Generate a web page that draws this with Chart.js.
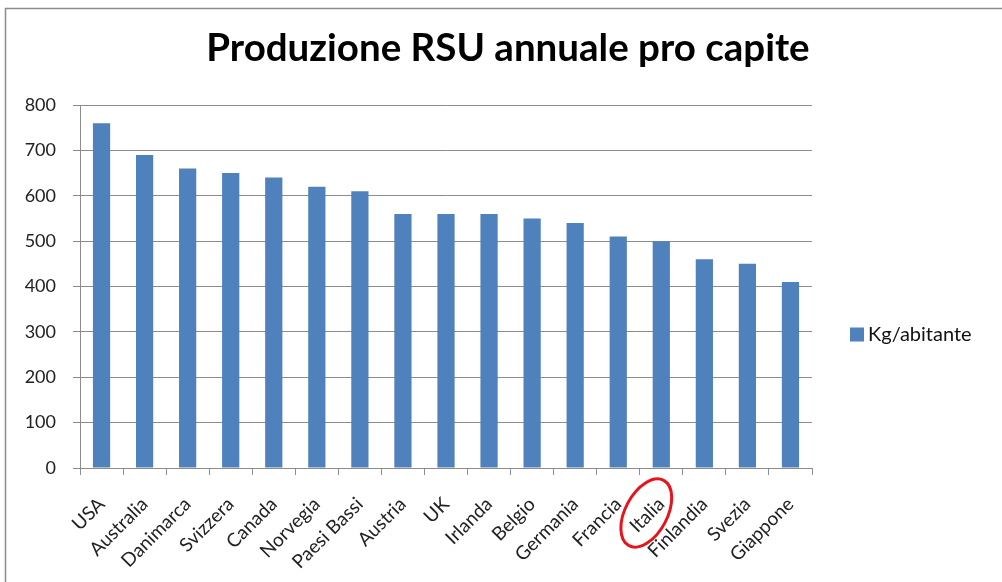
<!DOCTYPE html>
<html>
<head>
<meta charset="utf-8">
<script src="https://cdn.jsdelivr.net/npm/chart.js@4"></script>
<style>
html,body{margin:0;padding:0;background:#fff;}
#wrap{position:relative;width:1002px;height:582px;overflow:hidden;}
canvas{display:block;}
</style>
</head>
<body>
<div id="wrap"><canvas id="c" width="1002" height="582"></canvas></div>
<script>
const categories = ["USA","Australia","Danimarca","Svizzera","Canada","Norvegia","Paesi Bassi","Austria","UK","Irlanda","Belgio","Germania","Francia","Italia","Finlandia","Svezia","Giappone"];
const kgPerInhabitant = [760,690,660,650,640,620,610,560,560,560,550,540,510,500,460,450,410];
const seriesLabel = "Kg/abitante";
const chartTitle = "Produzione RSU annuale pro capite";
const highlighted = "Italia";

const FONT = 'Lato, "Liberation Sans", sans-serif';

const frameAndExtras = {
  id: 'frameAndExtras',
  beforeDraw(chart) {
    const ctx = chart.ctx;
    ctx.save();
    ctx.fillStyle = '#fff';
    ctx.fillRect(0, 0, chart.width, chart.height);
    ctx.strokeStyle = '#8c8c8c';
    ctx.lineWidth = 1.5;
    ctx.beginPath();
    ctx.moveTo(5.5, chart.height);
    ctx.lineTo(5.5, 8.5);
    ctx.lineTo(chart.width, 8.5);
    ctx.stroke();
    // title
    ctx.fillStyle = '#000';
    ctx.font = 'bold 38.5px ' + FONT;
    ctx.textAlign = 'center';
    ctx.textBaseline = 'alphabetic';
    ctx.fillText(chartTitle, 508, 61);
    ctx.restore();
  },
  afterDraw(chart) {
    const ctx = chart.ctx;
    const ds = chart.data.datasets[0];
    const area = chart.chartArea;
    // legend
    ctx.save();
    const lx = 850, ly = (area.top + area.bottom) / 2 + 48;
    ctx.fillStyle = ds.backgroundColor;
    ctx.fillRect(lx, ly - 7, 14, 14);
    ctx.fillStyle = '#111';
    ctx.font = '20px ' + FONT;
    ctx.textBaseline = 'middle';
    ctx.textAlign = 'left';
    ctx.fillText(ds.label, lx + 18, ly);
    // red ellipse around highlighted label
    const idx = chart.data.labels.indexOf(highlighted);
    if (idx >= 0) {
      const x = chart.scales.x.getPixelForValue(idx) - 15;
      const y = area.bottom + 45;
      ctx.strokeStyle = '#e8141b';
      ctx.lineWidth = 3;
      ctx.beginPath();
      ctx.ellipse(x, y, 37, 21, -62 * Math.PI / 180, 0, Math.PI * 2);
      ctx.stroke();
    }
    ctx.restore();
  }
};

new Chart(document.getElementById('c'), {
  type: 'bar',
  data: {
    labels: categories,
    datasets: [{
      label: seriesLabel,
      data: kgPerInhabitant,
      backgroundColor: '#4F81BD',
      borderWidth: 0,
      barPercentage: 0.4,
      categoryPercentage: 1.0
    }]
  },
  options: {
    responsive: false,
    animation: false,
    devicePixelRatio: 1,
    layout: { padding: { left: 0, right: 190, top: 105, bottom: 0 } },
    plugins: {
      legend: { display: false },
      tooltip: { enabled: false },
      title: { display: false }
    },
    scales: {
      x: {
        grid: { display: true, drawOnChartArea: false, drawTicks: true, tickLength: 7, color: '#8c8c8c', offset: true },
        border: { display: true, color: '#8c8c8c' },
        ticks: {
          autoSkip: false, maxRotation: 45, minRotation: 45, padding: 18,
          color: '#222',
          font: { family: FONT, size: 19 }
        },
        afterFit(scale) { scale.height = 114; }
      },
      y: {
        min: 0, max: 800,
        grid: { color: '#8c8c8c', tickLength: 7, drawTicks: true },
        border: { display: true, color: '#8c8c8c' },
        ticks: {
          stepSize: 100, padding: 17,
          color: '#222',
          font: { family: FONT, size: 18 }
        },
        afterFit(scale) { scale.width = 80; }
      }
    }
  },
  plugins: [frameAndExtras]
});
</script>
</body>
</html>
